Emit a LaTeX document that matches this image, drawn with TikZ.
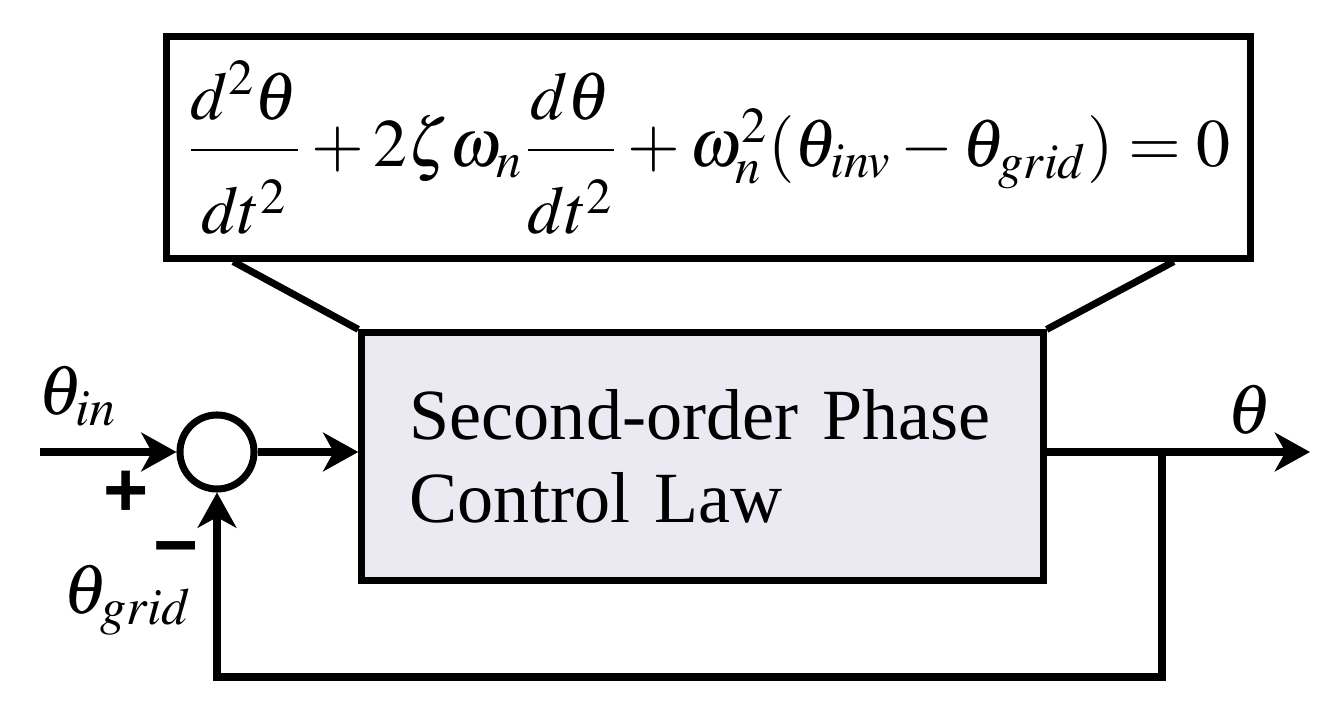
\documentclass[tikz,border=0pt]{standalone}
\usepackage{amsmath}
\usepackage{mathptmx}
\usepackage{fontspec}
\setmainfont{Liberation Serif}
\newfontfamily\signfont{Liberation Sans}
\usetikzlibrary{positioning}
\usetikzlibrary{arrows.meta}
\usetikzlibrary{calc}
\definecolor{lawfill}{RGB}{235,233,241}

\begin{document}
\begin{tikzpicture}[
    x=0.01cm, y=-0.01cm,
    line width=2pt,
    %% ── Node styles ─────────────────────────────────────────────
    eqbox/.style ={draw, minimum width=10.83cm, minimum height=2.21cm,
                   inner sep=0pt, font=\fontsize{19.3}{24}\selectfont},
    lawbox/.style={draw, fill=lawfill, minimum width=6.81cm, minimum height=2.47cm,
                   text width=5.85cm, align=left, font=\fontsize{20.5}{23.5}\selectfont},
    sumnode/.style={draw, circle, minimum size=0.74cm, inner sep=0pt},
    sig/.style   ={inner sep=0pt, font=\fontsize{20}{24}\selectfont},
    sgn/.style   ={inner sep=0pt, font=\signfont\bfseries\fontsize{22}{24}\selectfont},
    arr/.style   ={-{Stealth[length=10pt, width=11pt, inset=3pt]}}
]
    \useasboundingbox (0,0) rectangle (1342,710);

    %% ── Nodes ──────────────────────────────────────────────────
    \node[eqbox]   (eqn)  at (708.5,147.5) {$\dfrac{\rule[-6pt]{0pt}{6pt}d^2\theta}{\rule{0pt}{21pt}dt^2}+2\zeta\omega_n\dfrac{\rule[-6pt]{0pt}{6pt}d\theta}{\rule{0pt}{21pt}dt^2}+\omega_n^2(\theta_{inv}-\theta_{grid})=0$};
    \node[lawbox]  (ctrl) at (702.5,456.5) {Second-order Phase\\Control Law};
    \node[sumnode] (sum)  at (217,452)     {};

    \coordinate (in)  at (40,452);
    \coordinate (out) at (1310,452);
    \coordinate (tap) at (1162,452);
    \coordinate (low) at (1162,677);

    %% ── Labels ─────────────────────────────────────────────────
    \node[sig] (thin)   at (78,396)   {$\theta_{in}$};
    \node[sig] (thgrid) at (128,600)  {$\theta_{grid}$};
    \node[sig] (thout)  at (1250,410) {$\theta$};
    \node[sgn] (plus)   at (126,494)  {+};
    \node[sgn] (minus)  at (176,557)  {−};

    %% ── Connectors ─────────────────────────────────────────────
    \draw ([xshift=0.7cm]eqn.south west)  -- (ctrl.north west);
    \draw ([xshift=-0.8cm]eqn.south east) -- (ctrl.north east);
    \draw[arr] (in) -- (sum.west);
    \draw[arr] (sum.east) -- (ctrl.west |- sum);
    \draw[arr] (ctrl.east |- sum) -- (out);
    \draw[arr] (tap) -- (low) -| (sum.south);

\end{tikzpicture}
\end{document}
